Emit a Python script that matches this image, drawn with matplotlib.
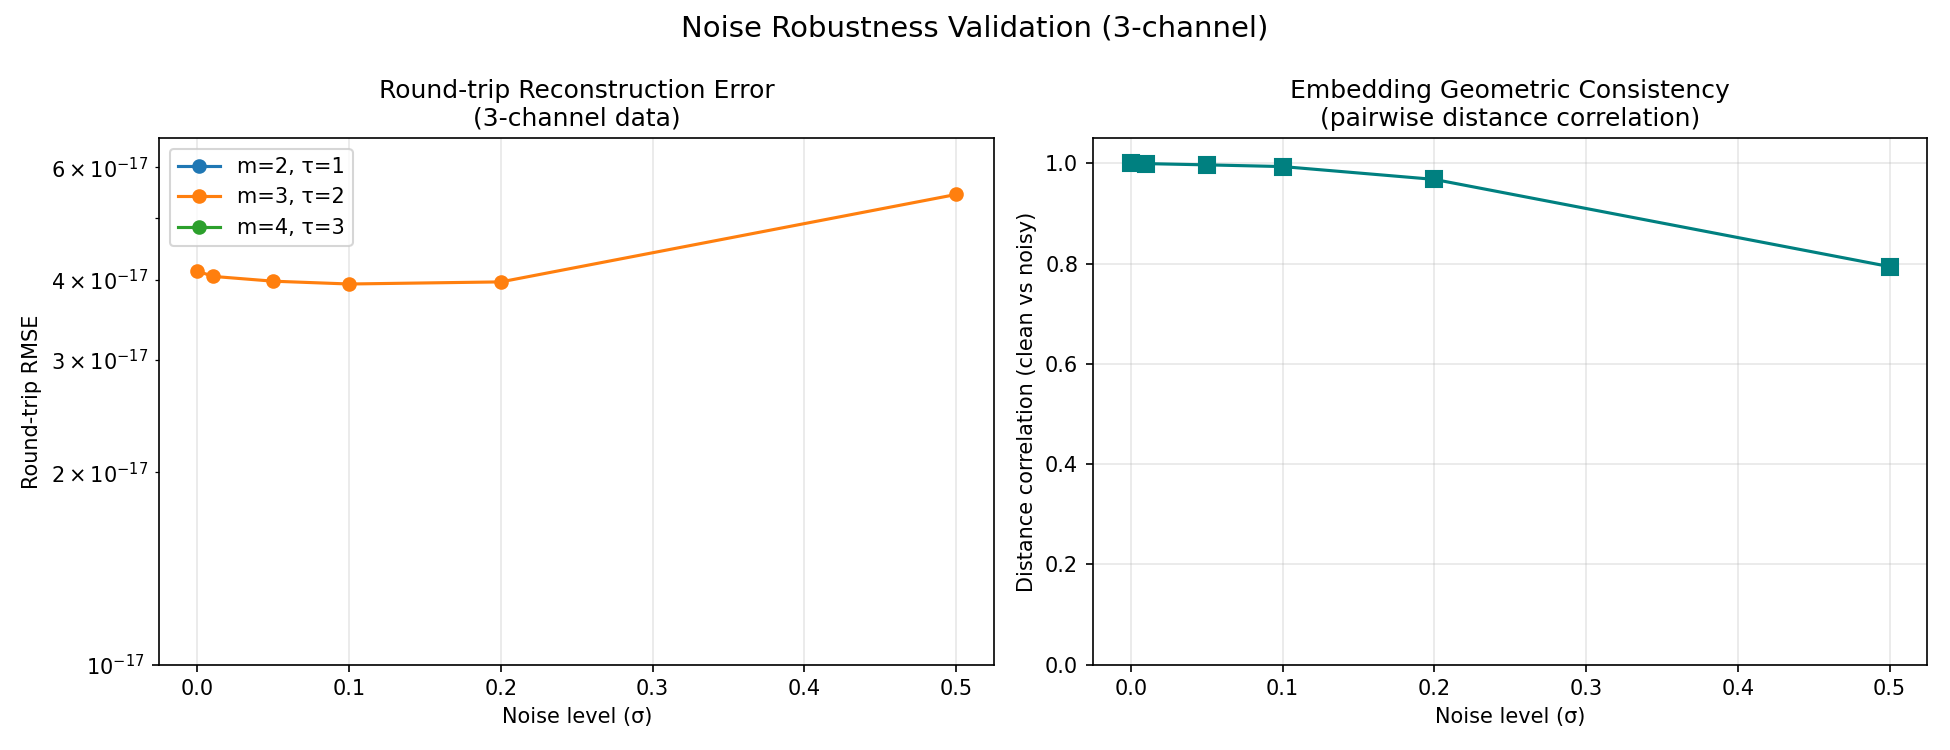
import numpy as np
import matplotlib.pyplot as plt

# noise levels (sigma)
noise_levels = [0.0, 0.01, 0.05, 0.1, 0.2, 0.5]

# round-trip RMSE per config (m=2 and m=4 are exact -> 0, not shown on log axis)
rmse_m2 = [0.0, 0.0, 0.0, 0.0, 0.0, 0.0]
rmse_m3 = [4.13e-17, 4.05e-17, 3.98e-17, 3.94e-17, 3.97e-17, 5.44e-17]
rmse_m4 = [0.0, 0.0, 0.0, 0.0, 0.0, 0.0]
config_labels = ['m=2, τ=1', 'm=3, τ=2', 'm=4, τ=3']

# pairwise distance correlation, clean vs noisy
dist_corr = [1.0, 0.9995, 0.997, 0.9936, 0.968, 0.794]

fig, (ax1, ax2) = plt.subplots(1, 2, figsize=(13, 5), dpi=150)

# left: reconstruction error
for rmse, lab in zip([rmse_m2, rmse_m3, rmse_m4], config_labels):
    ax1.plot(noise_levels, rmse, 'o-', label=lab, markersize=6)
ax1.set_yscale('log')
ax1.set_ylim(1e-17, 6.66e-17)
ax1.set_xlabel('Noise level (σ)')
ax1.set_ylabel('Round-trip RMSE')
ax1.set_title('Round-trip Reconstruction Error\n(3-channel data)')
ax1.legend(loc='upper left')
ax1.grid(alpha=0.3)

# right: geometric consistency
ax2.plot(noise_levels, dist_corr, 's-', color='teal', markersize=8)
ax2.set_ylim(0, 1.05)
ax2.set_xlabel('Noise level (σ)')
ax2.set_ylabel('Distance correlation (clean vs noisy)')
ax2.set_title('Embedding Geometric Consistency\n(pairwise distance correlation)')
ax2.grid(alpha=0.3)

fig.suptitle('Noise Robustness Validation (3-channel)', fontsize=14)
plt.tight_layout()
fig.subplots_adjust(top=fig.subplotpars.top - 0.008)
plt.savefig('out.png', dpi=150)
